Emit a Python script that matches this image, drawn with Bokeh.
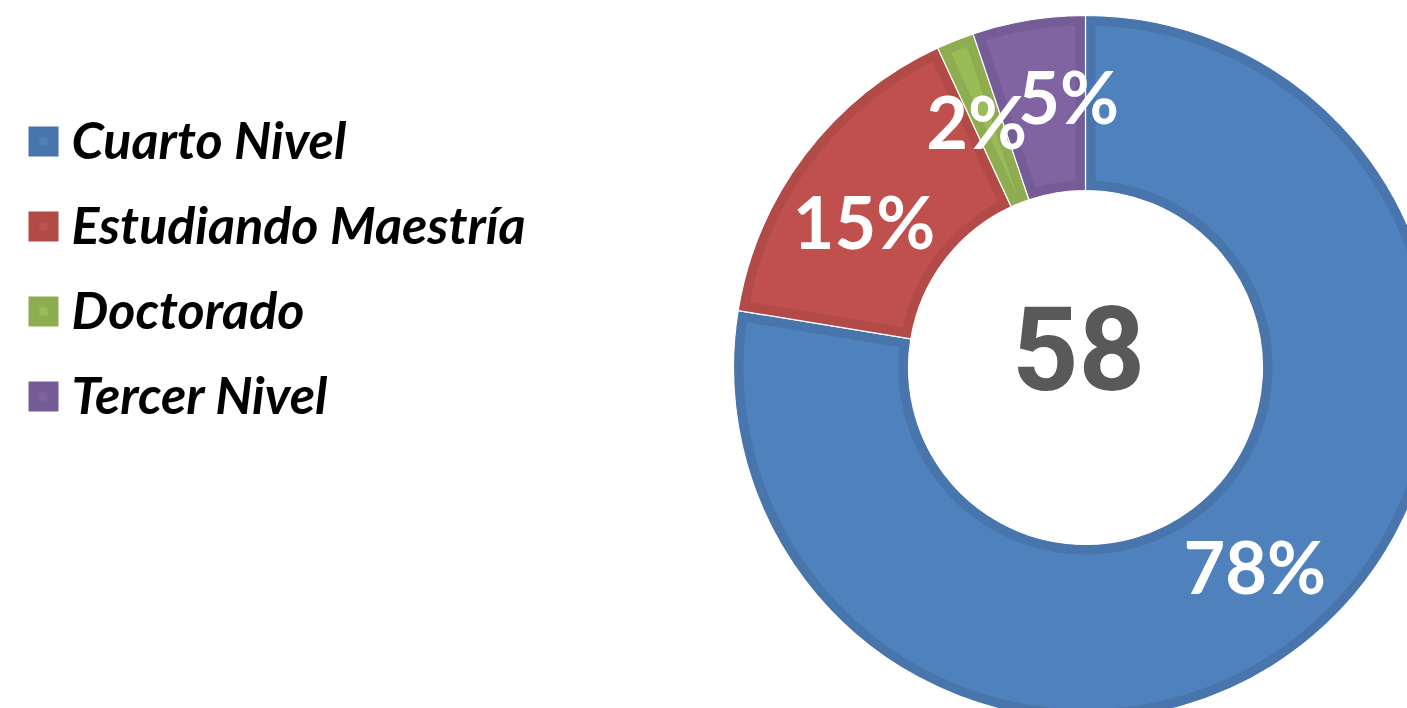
import numpy as np
from bokeh.plotting import figure
from bokeh.models import Range1d
from bokeh.core.properties import value
from bokeh.embed import file_html
from bokeh.resources import INLINE

# ---- data ----
categories = ["Cuarto Nivel", "Estudiando Maestría", "Doctorado", "Tercer Nivel"]
counts = [45, 9, 1, 3]
pct_labels = ["78%", "15%", "2%", "5%"]
total_label = "58"

# ---- style ----
fill_colors = ["#4F81BD", "#C0504D", "#9BBB59", "#8064A2"]
edge_colors = ["#4775AC", "#B24A47", "#8EAD51", "#765C96"]

W, H = 1407, 708
p = figure(width=W, height=H, output_backend="svg", toolbar_location=None,
           x_range=Range1d(0, W), y_range=Range1d(0, H),
           min_border=0, outline_line_color=None, background_fill_color="white",
           border_fill_color="white")
p.axis.visible = False
p.grid.visible = False

CX, CY = 1085, 341
R_OUT, R_IN, BAND = 352, 177, 10

vals = np.array(counts, dtype=float)
frac = vals / vals.sum()
cum = np.concatenate([[0], np.cumsum(frac)])
th0 = 2 * np.pi * cum[:-1]   # clockwise from top
th1 = 2 * np.pi * cum[1:]

# darker band (full slice)
p.annular_wedge(x=CX, y=CY, inner_radius=R_IN, outer_radius=R_OUT,
                start_angle=list(np.pi / 2 - th0), end_angle=list(np.pi / 2 - th1),
                direction="clock", fill_color=edge_colors, line_color="white",
                line_width=1.2)

# lighter inner part, inset by BAND px
xs, ys = [], []
for a0, a1 in zip(th0, th1):
    ro, ri = R_OUT - BAND, R_IN + BAND
    do, di = np.arcsin(BAND / ro), np.arcsin(BAND / ri)
    o0, o1 = a0 + do, a1 - do
    i0, i1 = a0 + di, a1 - di
    if i1 < i0:
        m = (a0 + a1) / 2
        i0 = i1 = m
    to = np.linspace(o0, o1, 120)
    ti = np.linspace(i1, i0, 120)
    px = np.concatenate([CX + ro * np.sin(to), CX + ri * np.sin(ti)])
    py = np.concatenate([CY + ro * np.cos(to), CY + ri * np.cos(ti)])
    xs.append(list(px))
    ys.append(list(py))
p.patches(xs=xs, ys=ys, fill_color=fill_colors, line_color=None)

# percentage labels
mid = (th0 + th1) / 2
rho = (R_OUT + R_IN) / 2
lx = CX + rho * np.sin(mid)
ly = CY + rho * np.cos(mid)
dx = [-2, -11, -11, 26]
dy = [-2, 15, 0, -9]
p.text(x=list(lx), y=list(ly), text=pct_labels, x_offset=dx,
       y_offset=[d - 1 for d in dy], text_align="center", text_baseline="alphabetic",
       text_color="white", text_font=value("Lato"), text_font_style="bold",
       text_font_size="72px")

# center total
p.text(x=[CX], y=[CY], text=[total_label], x_offset=-7, y_offset=-20,
       text_align="center", text_baseline="alphabetic", text_color="#595959",
       text_font=value("Roboto"),
       text_font_style="bold", text_font_size="116px")

# legend
n = len(categories)
leg_y = 708 - (141 + 85 * np.arange(n))
leg_x = np.full(n, 43.0)
p.rect(x=list(leg_x), y=list(leg_y), width=30, height=30, fill_color=edge_colors,
       line_color=None)
p.rect(x=list(leg_x), y=list(leg_y), width=8, height=8, fill_color=fill_colors,
       line_color=None)
p.text(x=list(leg_x + 28), y=list(leg_y), text=categories, y_offset=-3,
       text_align="left", text_baseline="alphabetic", text_color="black",
       text_font=value("Lato"), text_font_style="bold italic", text_font_size="52px")

open("out.html", "w").write(file_html(p, INLINE))
